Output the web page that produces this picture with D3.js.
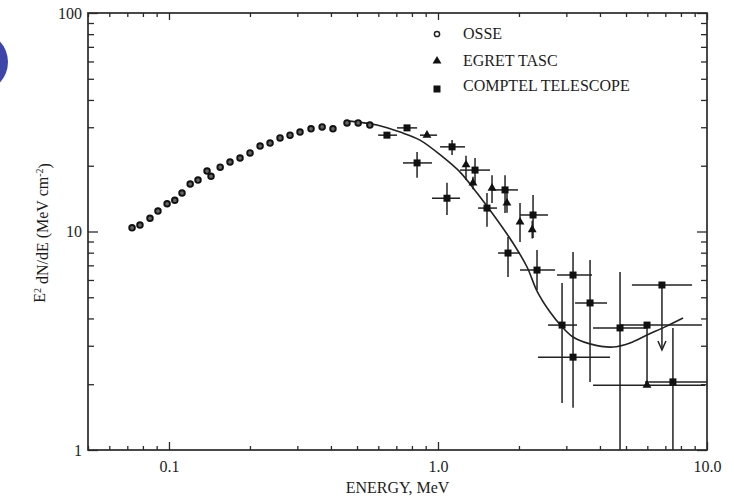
<!DOCTYPE html>
<html>
<head>
<meta charset="utf-8">
<script src="https://d3js.org/d3.v7.min.js"></script>
<style>
  body { margin: 0; background: #fff; }
  text { font-family: "Liberation Serif", "DejaVu Serif", serif; fill: #1c1c1c; }
  .axis path { display: none; }
  .axis line { stroke: #2a2a2a; stroke-width: 1.3; }
  .frame { fill: none; stroke: #2a2a2a; stroke-width: 1.7; }
  .err { stroke: #222; stroke-width: 1.5; fill: none; }
  .model { stroke: #222; stroke-width: 1.6; fill: none; }
</style>
</head>
<body>
<script>
// OSSE
var osseE = [0.0729, 0.078, 0.085, 0.091, 0.0984, 0.1051, 0.1118, 0.1199, 0.1282, 0.1385, 0.1433, 0.155, 0.1686,
             0.1837, 0.2001, 0.2181, 0.2375, 0.2587, 0.2818, 0.307, 0.3373, 0.371, 0.407, 0.459, 0.505, 0.558];
var osseV = [10.4, 10.7, 11.5, 12.4, 13.4, 13.9, 15.0, 16.5, 17.2, 18.9, 17.9, 19.7, 20.8,
             21.7, 22.9, 24.6, 25.4, 26.8, 27.6, 28.5, 29.5, 30.1, 29.5, 31.4, 31.4, 30.7];

// EGRET TASC
var egretE   = [0.910, 1.271, 1.349, 1.588, 1.805, 2.018, 2.24, 5.985];
var egretV   = [27.6, 20.2, 16.7, 15.8, 13.5, 11.05, 10.2, 1.98];
var egretElo = [0.857, 1.271, 1.349, 1.588, 1.805, 2.018, 2.24, 3.77];
var egretEhi = [0.992, 1.271, 1.349, 1.588, 1.805, 2.018, 2.24, 9.83];
var egretVlo = [27.6, 17.2, 15.6, 13.5, 12.2, 8.95, 9.3, 1.98];
var egretVhi = [27.6, 22.2, 17.8, 18.1, 15.0, 13.5, 11.2, 3.73];

// COMPTEL TELESCOPE
var comptelE   = [0.646, 0.767, 0.836, 1.080, 1.128, 1.373, 1.775, 1.521, 2.256, 1.821, 2.334, 3.177, 3.675, 2.892, 3.177, 4.75, 5.985, 7.47];
var comptelV   = [27.6, 29.8, 20.6, 14.2, 24.4, 19.1, 15.5, 12.8, 11.9, 7.97, 6.66, 6.32, 4.71, 3.73, 2.66, 3.62, 3.73, 2.05];
var comptelElo = [0.599, 0.704, 0.741, 0.950, 1.018, 1.208, 1.588, 1.409, 2.018, 1.672, 2.018, 2.770, 3.232, 2.565, 2.354, 3.770, 4.75, 5.88];
var comptelEhi = [0.704, 0.836, 0.950, 1.208, 1.260, 1.561, 1.984, 1.657, 2.565, 2.018, 2.724, 3.737, 4.250, 3.287, 4.360, 5.985, 9.58, 10];
var comptelVlo = [27.6, 29.8, 17.6, 11.9, 22.4, 16.7, 12.15, 10.5, 9.34, 6.19, 5.40, 4.71, 2.05, 1.64, 1.56, 0.5, 3.73, 0.5];
var comptelVhi = [27.6, 29.8, 23.1, 16.7, 26.2, 21.7, 18.1, 15.0, 14.7, 9.44, 8.23, 8.06, 7.41, 5.81, 4.71, 6.53, 3.73, 3.62];

// upper limit (arrow)
var limitE = [6.80], limitV = [5.69], limitElo = [5.26], limitEhi = [8.80], limitTo = [2.87];

// model curve
var curveE = [0.471, 0.593, 0.723, 0.857, 1.044, 1.208, 1.397, 1.629, 1.900, 2.143, 2.334, 2.609, 2.892, 3.177, 3.675, 4.474, 5.175, 5.985, 6.982, 8.146];
var curveV = [32.0, 30.7, 28.5, 26.2, 21.9, 18.7, 15.0, 11.65, 8.86, 6.88, 5.34, 4.28, 3.66, 3.29, 3.06, 2.96, 3.09, 3.36, 3.66, 4.02];

var xMajor = [0.1, 1, 10];
var xLabels = ["0.1", "1.0", "10.0"];
var yMajor = [1, 10, 100];
var yLabels = ["1", "10", "100"];
var legendNames = ["OSSE", "EGRET TASC", "COMPTEL TELESCOPE"];

var margin = {top: 13, right: 27, bottom: 48, left: 88};
var width = 734 - margin.left - margin.right;
var height = 498 - margin.top - margin.bottom;

var root = d3.select("body").append("svg")
    .attr("width", 734)
    .attr("height", 498);

// blue blob at left edge of the scan
root.append("circle")
    .attr("cx", -22).attr("cy", 62).attr("r", 30)
    .attr("fill", "#3d45a8");

var svg = root.append("g")
    .attr("transform", "translate(" + margin.left + "," + margin.top + ")");

var x = d3.scaleLog().domain([0.05, 10]).range([0, width]);
var y = d3.scaleLog().domain([1, 100]).range([height, 0]);

// minor tick values
var xMinor = [], yMinor = [];
[0.01, 0.1, 1].forEach(function(d) {
  for (var k = 2; k <= 9; k++) {
    var v = +(d * k).toPrecision(3);
    if (v >= 0.05 && v < 10) xMinor.push(v);
  }
});
[1, 10].forEach(function(d) {
  for (var k = 2; k <= 9; k++) yMinor.push(d * k);
});

function addAxis(axisFn, tr, vals, size, labels) {
  var a = axisFn.tickValues(vals).tickSize(-size).tickSizeOuter(0);
  if (labels) {
    a.tickFormat(function(d, i) { return labels[i]; });
  } else {
    a.tickFormat("");
  }
  var g = svg.append("g").attr("class", "axis").attr("transform", tr).call(a);
  g.selectAll("text").style("font-size", "16px").attr("fill", "#1c1c1c");
  return g;
}

// bottom
addAxis(d3.axisBottom(x), "translate(0," + height + ")", xMinor, 4);
addAxis(d3.axisBottom(x).tickPadding(11), "translate(0," + height + ")", xMajor, 8, xLabels);
// top
addAxis(d3.axisTop(x), "translate(0,0)", xMinor, 4);
addAxis(d3.axisTop(x), "translate(0,0)", xMajor, 7);
// left
addAxis(d3.axisLeft(y), "translate(0,0)", yMinor, 6);
addAxis(d3.axisLeft(y).tickPadding(6), "translate(0,0)", yMajor, 10, yLabels);
// right
addAxis(d3.axisRight(y), "translate(" + width + ",0)", yMinor, 6);
addAxis(d3.axisRight(y), "translate(" + width + ",0)", yMajor, 10);

svg.append("rect").attr("class", "frame")
    .attr("width", width).attr("height", height);

svg.append("clipPath").attr("id", "plotclip")
  .append("rect").attr("width", width).attr("height", height);

var plot = svg.append("g").attr("clip-path", "url(#plotclip)");

// model curve
var line = d3.line()
    .x(function(d, i) { return x(curveE[i]); })
    .y(function(d, i) { return y(curveV[i]); })
    .curve(d3.curveCatmullRom);
plot.append("path").attr("class", "model").attr("d", line(curveE));

// error bars
function errBars(E, V, Elo, Ehi, Vlo, Vhi) {
  E.forEach(function(e, i) {
    if (Elo[i] !== Ehi[i]) {
      plot.append("line").attr("class", "err")
        .attr("x1", x(Elo[i])).attr("x2", x(Ehi[i]))
        .attr("y1", y(V[i])).attr("y2", y(V[i]));
    }
    if (Vlo[i] !== Vhi[i]) {
      plot.append("line").attr("class", "err")
        .attr("x1", x(e)).attr("x2", x(e))
        .attr("y1", y(Vlo[i])).attr("y2", y(Vhi[i]));
    }
  });
}
errBars(comptelE, comptelV, comptelElo, comptelEhi, comptelVlo, comptelVhi);
errBars(egretE, egretV, egretElo, egretEhi, egretVlo, egretVhi);

// upper limit
limitE.forEach(function(e, i) {
  plot.append("line").attr("class", "err")
    .attr("x1", x(limitElo[i])).attr("x2", x(limitEhi[i]))
    .attr("y1", y(limitV[i])).attr("y2", y(limitV[i]));
  plot.append("line").attr("class", "err")
    .attr("x1", x(e)).attr("x2", x(e))
    .attr("y1", y(limitV[i])).attr("y2", y(limitTo[i]));
  plot.append("path").attr("class", "err")
    .attr("d", "M" + (x(e) - 4) + "," + (y(limitTo[i]) - 9) + "L" + x(e) + "," + y(limitTo[i]) +
               "L" + (x(e) + 4) + "," + (y(limitTo[i]) - 9));
  plot.append("rect")
    .attr("x", x(e) - 3.5).attr("y", y(limitV[i]) - 3.5)
    .attr("width", 7).attr("height", 7).attr("fill", "#111");
});

// markers
function drawCircle(g, cx, cy, r) {
  g.append("circle").attr("cx", cx).attr("cy", cy).attr("r", r || 2.8)
    .attr("fill", "#666").attr("stroke", "#111").attr("stroke-width", 1.9);
}
function drawTriangle(g, cx, cy) {
  g.append("path").attr("transform", "translate(" + cx + "," + cy + ")")
    .attr("d", d3.symbol().type(d3.symbolTriangle).size(34)())
    .attr("fill", "#111");
}
function drawSquare(g, cx, cy) {
  g.append("rect").attr("x", cx - 3.5).attr("y", cy - 3.5)
    .attr("width", 7).attr("height", 7).attr("fill", "#111");
}

osseE.forEach(function(e, i) { drawCircle(plot, x(e), y(osseV[i])); });
egretE.forEach(function(e, i) { drawTriangle(plot, x(e), y(egretV[i])); });
comptelE.forEach(function(e, i) { drawSquare(plot, x(e), y(comptelV[i])); });

// legend
var legend = svg.append("g").attr("transform", "translate(" + (437 - margin.left) + "," + (34 - margin.top) + ")");
var rowY = [0, 27, 52];
legendNames.forEach(function(name, i) {
  if (i === 0) {
    legend.append("circle").attr("cx", 0).attr("cy", rowY[i]).attr("r", 2.6)
      .attr("fill", "#fff").attr("stroke", "#222").attr("stroke-width", 1.5);
  } else if (i === 1) {
    drawTriangle(legend, 0, rowY[i]);
  } else {
    drawSquare(legend, 0, rowY[i] + 3);
  }
  legend.append("text")
    .attr("x", 26).attr("y", rowY[i] + 5)
    .style("font-size", "16px")
    .text(name);
});

// axis titles
root.append("text")
    .attr("x", margin.left + width / 2).attr("y", 493)
    .attr("text-anchor", "middle")
    .style("font-size", "16px")
    .text("ENERGY, MeV");

var yt = root.append("text")
    .attr("transform", "translate(45,233) rotate(-90)")
    .attr("text-anchor", "middle")
    .style("font-size", "16px");
yt.append("tspan").text("E");
yt.append("tspan").attr("dy", "-0.45em").style("font-size", "10px").text("2");
yt.append("tspan").attr("dy", "0.45em").text(" dN/dE (MeV cm");
yt.append("tspan").attr("dy", "-0.45em").style("font-size", "10px").text("-2");
yt.append("tspan").attr("dy", "0.45em").text(")");
</script>
</body>
</html>
